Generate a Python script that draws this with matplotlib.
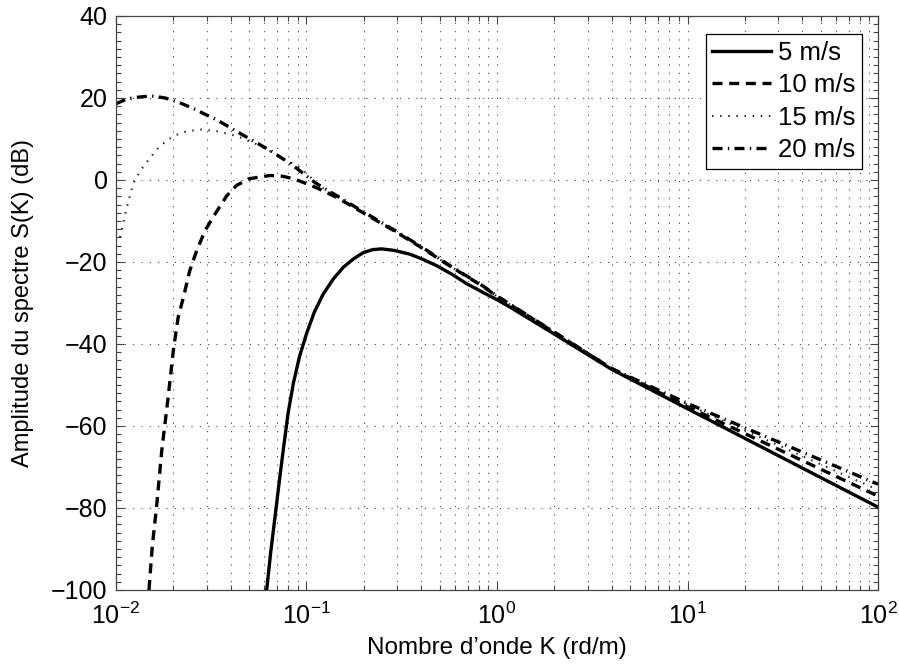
import matplotlib
matplotlib.use('Agg')
import matplotlib.pyplot as plt
from matplotlib.ticker import LogLocator, MultipleLocator, NullFormatter

plt.rcParams['font.family'] = ['Liberation Sans', 'DejaVu Sans']
plt.rcParams['mathtext.fontset'] = 'custom'
plt.rcParams['mathtext.rm'] = 'Liberation Sans'

# wave number K (rd/m) and spectrum amplitude (dB)
k_5 = [0.0618, 0.0650, 0.0684, 0.0720, 0.0755, 0.0800, 0.0853, 0.0920, 0.100,
       0.110, 0.1225, 0.138, 0.156, 0.177, 0.199, 0.222, 0.248, 0.290, 0.349,
       0.410, 0.482, 0.580, 0.693, 0.850, 1.00, 1.17, 2.00, 4.00, 10.0, 100.0]
s_5 = [-100, -90.5, -82.1, -73.5, -65.9, -57.0, -49.6, -43.0, -37.5,
       -32.2, -27.8, -24.2, -21.3, -19.2, -17.7, -17.0, -16.8, -17.2, -18.1,
       -19.4, -20.9, -23.0, -25.3, -27.5, -29.2, -31.0, -37.6, -46.2, -55.8, -79.8]

k_10 = [0.0149, 0.0155, 0.0164, 0.0174, 0.0188, 0.0200, 0.0212, 0.0226, 0.0244,
        0.0265, 0.0293, 0.0331, 0.0381, 0.0430, 0.0500, 0.0643, 0.0750, 0.0871,
        0.113, 0.145, 0.190, 0.286, 0.411, 0.566, 0.847, 1.00, 2.00, 4.00,
        10.0, 100.0]
s_10 = [-100, -89.5, -78.8, -65.9, -52.9, -41.6, -33.5, -28.6, -22.1,
        -17.3, -12.4, -8.3, -3.9, -1.3, 0.3, 1.1, 0.9, 0.2,
        -1.9, -4.3, -7.5, -12.3, -16.8, -21.0, -26.0, -28.4, -37.2, -46.0,
        -55.3, -77.1]

k_15 = [0.0105, 0.0114, 0.0123, 0.0134, 0.0151, 0.0170, 0.0200, 0.0235, 0.0282,
        0.0338, 0.0431, 0.0548, 0.0698, 0.0925, 0.120, 0.145, 0.190, 0.286,
        0.411, 0.566, 0.847, 1.00, 2.00, 4.00, 10.0, 100.0]
s_15 = [-14.0, -6.7, -1.0, 2.2, 5.4, 8.3, 10.7, 11.9, 12.3,
        11.9, 10.7, 8.7, 6.2, 3.0, -1.8, -4.1, -7.4, -12.2,
        -16.7, -21.0, -26.0, -28.4, -37.2, -46.0, -54.8, -75.6]

k_20 = [0.0100, 0.0115, 0.0131, 0.0154, 0.0181, 0.0215, 0.0255, 0.0340, 0.0466,
        0.0638, 0.0835, 0.112, 0.145, 0.185, 0.286, 0.411, 0.566, 0.847,
        1.00, 2.00, 4.00, 10.0, 100.0]
s_20 = [18.6, 19.8, 20.2, 20.5, 20.0, 18.9, 17.4, 14.6, 10.9,
        7.3, 3.8, -0.8, -3.9, -6.9, -12.1, -16.6, -20.9, -25.9,
        -28.3, -37.1, -46.0, -54.5, -74.2]

labels = ['5 m/s', '10 m/s', '15 m/s', '20 m/s']

fig = plt.figure(figsize=(8.99, 6.68), dpi=100)
ax = fig.add_axes([0.129, 0.1168, 0.8477, 0.8593])

ax.plot(k_5, s_5, color='k', lw=2.4, linestyle='-', label=labels[0])
ax.plot(k_10, s_10, color='k', lw=2.4, linestyle=(0, (3, 2)), label=labels[1])
ax.plot(k_15, s_15, color='#222222', lw=1.5, linestyle=(0, (0.7, 3.2)), label=labels[2])
ax.plot(k_20, s_20, color='k', lw=2.4, linestyle=(0, (3, 1.6, 0.4, 1.6)), label=labels[3])

ax.set_xscale('log')
ax.set_xlim(1e-2, 1e2)
ax.set_ylim(-100, 40)
ax.yaxis.set_major_locator(MultipleLocator(20))
ax.yaxis.set_minor_locator(MultipleLocator(2))
ax.xaxis.set_major_locator(LogLocator(base=10, numticks=10))
ax.xaxis.set_minor_locator(LogLocator(base=10, subs=range(2, 10), numticks=20))
ax.xaxis.set_minor_formatter(NullFormatter())

grid_style = dict(color='k', linestyle=(0, (1, 7)), linewidth=0.75, alpha=0.8)
ax.grid(True, which='major', **grid_style)
ax.grid(True, which='minor', axis='x', **grid_style)

ax.tick_params(which='both', direction='in', top=True, right=True, labelsize=18,
               width=0.8, color='#444444')
ax.tick_params(which='major', length=6)
ax.tick_params(which='minor', length=3.5)
ax.tick_params(axis='x', pad=9)
ax.tick_params(axis='y', pad=6)
for sp in ax.spines.values():
    sp.set_color('#444444')
    sp.set_linewidth(0.9)

ax.set_xlabel('Nombre d\u2019onde K (rd/m)', fontsize=17.5, labelpad=6)
ax.set_ylabel('Amplitude du spectre S(K) (dB)', fontsize=17, labelpad=12)

leg = ax.legend(loc='upper right', bbox_to_anchor=(0.979, 0.968), borderaxespad=0,
                fontsize=18.5, handlelength=2.3, handletextpad=0.28, labelspacing=0.33,
                borderpad=0.25, fancybox=False, framealpha=1, edgecolor='k')
leg.get_frame().set_linewidth(0.9)

fig.savefig('out.png', dpi=100, facecolor='white')
